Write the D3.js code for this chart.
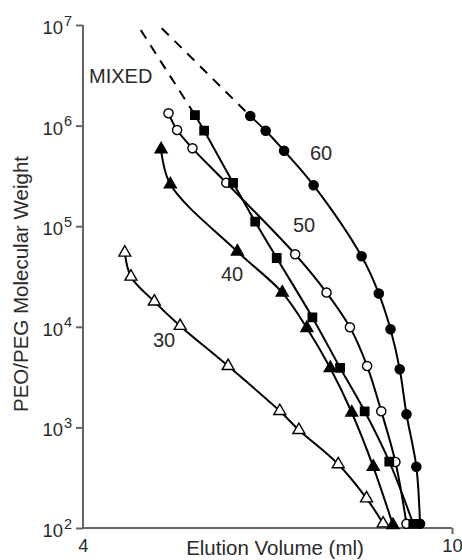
<!DOCTYPE html>
<html><head><meta charset="utf-8">
<script src="https://cdn.jsdelivr.net/npm/d3@7"></script>
<style>html,body{margin:0;padding:0;background:#fff}svg{display:block}</style>
</head><body><svg id="c" width="462" height="560"></svg>
<script>
// ---- data ----
const elution30 = [4.68, 4.78, 5.16, 5.58, 6.36, 7.20, 7.51, 8.15, 8.61, 8.88];
const mw30      = [54600, 31500, 17800, 10200, 4070, 1455, 942, 430, 197, 111];
const elution40 = [5.27, 5.42, 6.51, 7.24, 7.64, 8.02, 8.37, 8.72, 9.04];
const mw40      = [581000, 260600, 56000, 21900, 9730, 3890, 1406, 406, 107];
const elution50 = [5.39, 5.53, 5.78, 6.33, 7.45, 7.96, 8.34, 8.62, 8.85, 9.08, 9.26];
const mw50      = [1325000, 903000, 594000, 270000, 52600, 21900, 9890, 4070, 1445, 453, 110];
const elutionMixed = [5.82, 5.97, 6.44, 6.80, 7.15, 7.73, 8.18, 8.58, 8.98, 9.37];
const mwMixed      = [1274000, 889000, 270000, 111000, 48300, 12400, 3915, 1445, 456, 110];
const elution60 = [6.72, 6.97, 7.27, 7.75, 8.53, 8.81, 9.00, 9.15, 9.26, 9.42, 9.48];
const mw60      = [1245000, 888000, 562000, 255000, 50200, 21400, 9440, 3785, 1352, 406, 110];
// dashed extrapolations
const dashMixedX = [4.94, 5.82];
const dashMixedY = [8.9e6, 1274000];
const dash60X = [5.28, 6.72];
const dash60Y = [9.3e6, 1245000];
// axes
const yTickExps = [2, 3, 4, 5, 6, 7];
const xTickVals = [4, 10];
const seriesLabels = ["30", "40", "50", "60", "MIXED"];

// ---- chart ----
const svg = d3.select("#c");
const x = d3.scaleLinear().domain([4, 10]).range([83, 452]);
const y = d3.scaleLog().domain([100, 1e7]).range([528, 25]);
const font = "'Liberation Sans', Arial, sans-serif";
const axisColor = "#666";
const textColor = "#2a2a2a";

// y axis
const yAxis = d3.axisLeft(y).tickValues(yTickExps.map(e => Math.pow(10, e))).tickSize(7).tickFormat("");
const gy = svg.append("g").attr("transform", "translate(83,0)").call(yAxis);
gy.select(".domain").attr("stroke", axisColor).attr("stroke-width", 2).attr("d", "M0,25V528");
gy.selectAll(".tick line").attr("stroke", axisColor).attr("stroke-width", 2);
yTickExps.forEach(e => {
  const yy = y(Math.pow(10, e));
  svg.append("text").attr("x", 63).attr("y", yy + 9)
    .attr("text-anchor", "end").attr("font-family", font).attr("font-size", 18.5).attr("fill", textColor).text("10");
  svg.append("text").attr("x", 64).attr("y", yy + 0.5)
    .attr("font-family", font).attr("font-size", 14.5).attr("fill", textColor).text(String(e));
});

// x axis
const xAxis = d3.axisBottom(x).tickValues(xTickVals).tickSize(6).tickFormat(d3.format("d"));
const gx = svg.append("g").attr("transform", "translate(0,528)").call(xAxis);
gx.select(".domain").attr("stroke", axisColor).attr("stroke-width", 2).attr("d", "M82,0H452");
gx.selectAll(".tick line").attr("stroke", axisColor).attr("stroke-width", 2)
  .attr("opacity", d => d === 4 ? 0 : 1);
gx.selectAll(".tick text").attr("font-family", font).attr("font-size", 18.5).attr("fill", textColor)
  .attr("y", 11).attr("dy", "0.71em");

// axis titles
svg.append("text").attr("x", 275).attr("y", 555).attr("text-anchor", "middle")
  .attr("font-family", font).attr("font-size", 20.5).attr("fill", textColor).text("Elution Volume (ml)");
svg.append("text").attr("transform", "translate(28,284) rotate(-90)").attr("text-anchor", "middle")
  .attr("font-family", font).attr("font-size", 20.5).attr("fill", textColor).text("PEO/PEG Molecular Weight");

// lines
const line = d3.line().x(d => x(d[0])).y(d => y(d[1])).curve(d3.curveCatmullRom.alpha(0.5));
const straight = d3.line().x(d => x(d[0])).y(d => y(d[1]));
const zip = (a, b) => a.map((v, i) => [v, b[i]]);

const series = [
  {xs: elution30, ys: mw30, sym: d3.symbolTriangle, size: 62, fill: "#fff"},
  {xs: elution40, ys: mw40, sym: d3.symbolTriangle, size: 62, fill: "#000"},
  {xs: elution50, ys: mw50, sym: d3.symbolCircle, size: 66, fill: "#fff"},
  {xs: elutionMixed, ys: mwMixed, sym: d3.symbolSquare, size: 70, fill: "#000"},
  {xs: elution60, ys: mw60, sym: d3.symbolCircle, size: 66, fill: "#000"}
];

[[dashMixedX, dashMixedY], [dash60X, dash60Y]].forEach(([xs, ys]) => {
  svg.append("path").attr("d", straight(zip(xs, ys))).attr("fill", "none")
    .attr("stroke", "#000").attr("stroke-width", 2).attr("stroke-dasharray", "10,8");
});

series.forEach(s => {
  svg.append("path").attr("d", line(zip(s.xs, s.ys))).attr("fill", "none")
    .attr("stroke", "#000").attr("stroke-width", 2);
});
series.forEach(s => {
  svg.append("g").selectAll("path").data(zip(s.xs, s.ys)).join("path")
    .attr("transform", d => `translate(${x(d[0])},${y(d[1])})`)
    .attr("d", d3.symbol().type(s.sym).size(s.size))
    .attr("fill", s.fill).attr("stroke", "#000").attr("stroke-width", 1.4);
});

// series labels
const labelPos = [[153, 347], [221, 281], [293, 232], [310, 160], [89, 83]];
seriesLabels.forEach((t, i) => {
  svg.append("text").attr("x", labelPos[i][0]).attr("y", labelPos[i][1])
    .attr("font-family", font).attr("font-size", 20).attr("fill", textColor).text(t);
});
</script></body></html>
